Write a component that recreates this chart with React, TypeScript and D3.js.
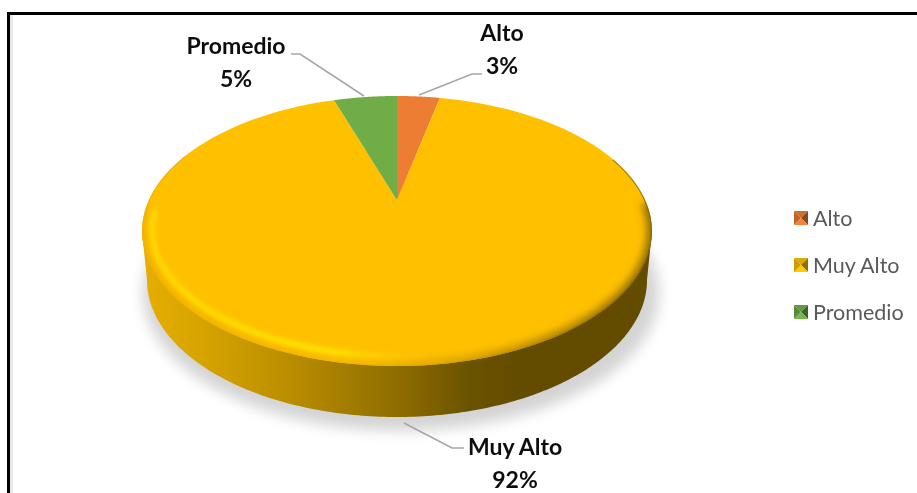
import React from "react";
import * as d3 from "d3";

const categories = ["Alto", "Muy Alto", "Promedio"];
const values = [3.4, 91.6, 5.0];
const percentLabels = ["3%", "92%", "5%"];
const colors = ["#ED7D31", "#FFC000", "#70AD47"];

const W = 917;
const H = 493;
// Tilted-disc projection of the pie's unit circle
const apex = { x: 397, y: 200 };
const scaleX = 248;
const scaleY = 127.9;
const persp = 0.2296;
const top = { cx: 397, cy: 231, rx: 255, ry: 135 };
const inset = { cx: 397, cy: 229, rx: 245, ry: 127 };
const bottom = { cx: 397, cy: 280, rx: 250, ry: 137 };

const project = (a: number, r = 1): [number, number] => {
  const u = Math.sin(a) * r;
  const v = Math.cos(a) * r;
  const w = 1 / (1 + persp * v);
  return [apex.x + scaleX * u * w, apex.y - scaleY * v * w];
};
const line = d3.line();
const pie = d3.pie<number>().sort(null).value((d) => d);
const arcs = pie(values);

const slicePath = (start: number, end: number) => {
  const pts = d3.range(0, 121).map((i) => project(start + ((end - start) * i) / 120));
  return line([[apex.x, apex.y], ...pts])! + "Z";
};

const ell = (e: typeof top, a: number): [number, number] => [
  e.cx + e.rx * Math.cos(a),
  e.cy + e.ry * Math.sin(a),
];
const bodyPts: [number, number][] = [
  ell(top, 0),
  ...d3.range(0, 181).map((d) => ell(bottom, (d * Math.PI) / 180)),
  ell(top, Math.PI),
];
const rimPts = d3.range(-12, 192).map((d) => ell(top, (d * Math.PI) / 180));
const thinRimPts = d3.range(-32, 215).map((d) => ell(top, (d * Math.PI) / 180));
const stripePts = d3.range(70, 190).map((d) => ell(inset, (d * Math.PI) / 180));

const labels = [
  { i: 0, x: 502, y: 41, dy: 33, leader: [[482, 74], [472, 74], [419, 95]] },
  { i: 1, x: 515, y: 455, dy: 33, leader: [[464, 448], [452, 448], [404, 423]] },
  { i: 2, x: 236, y: 54, dy: 33, leader: [[291, 54], [300, 54], [364, 96]] },
] as { i: number; x: number; y: number; dy: number; leader: [number, number][] }[];

const legendY = d3.scalePoint<string>().domain(categories).range([218, 312]);
const font = "Lato, Carlito, sans-serif";

function Marker({ y, color }: { y: number; color: string }) {
  const s = 7;
  const x = 801;
  const c = d3.color(color)!;
  const tri = [
    { p: [[x - s, y - s], [x + s, y - s], [x, y]], f: c.darker(0.35) },
    { p: [[x + s, y - s], [x + s, y + s], [x, y]], f: c.darker(1.6) },
    { p: [[x + s, y + s], [x - s, y + s], [x, y]], f: c.brighter(0.15) },
    { p: [[x - s, y + s], [x - s, y - s], [x, y]], f: c.darker(0.6) },
  ];
  return (
    <g filter="url(#softer)">
      {tri.map((t, i) => (
        <path key={i} d={line(t.p as [number, number][])! + "Z"} fill={String(t.f)} />
      ))}
    </g>
  );
}

export default function App() {
  return (
    <svg width={W} height={H} style={{ position: "absolute", left: 0, top: 0, display: "block", background: "#fff" }}>
      <defs>
        <filter id="sh" x="-20%" y="-20%" width="140%" height="140%">
          <feGaussianBlur stdDeviation="7" />
        </filter>
        <filter id="bev" x="-10%" y="-10%" width="120%" height="120%">
          <feGaussianBlur stdDeviation="4" />
        </filter>
        <filter id="bev2" x="-10%" y="-10%" width="120%" height="120%">
          <feGaussianBlur stdDeviation="2.4" />
        </filter>
        <filter id="soft" x="-5%" y="-5%" width="110%" height="110%">
          <feGaussianBlur stdDeviation="0.5" />
        </filter>
        <filter id="softer" x="-20%" y="-20%" width="140%" height="140%">
          <feGaussianBlur stdDeviation="0.5" />
        </filter>
        <filter id="txt" x="-10%" y="-20%" width="120%" height="140%">
          <feGaussianBlur stdDeviation="0.35" />
        </filter>
        <linearGradient id="side" gradientUnits="userSpaceOnUse" x1="142" x2="652" y1="0" y2="0">
          <stop offset="0" stopColor="#e6ae00" />
          <stop offset="0.12" stopColor="#d6a300" />
          <stop offset="0.3" stopColor="#b88c00" />
          <stop offset="0.5" stopColor="#8f6d00" />
          <stop offset="0.64" stopColor="#6b5300" />
          <stop offset="0.75" stopColor="#634b00" />
          <stop offset="1" stopColor="#634b00" />
        </linearGradient>
        <linearGradient id="rim" gradientUnits="userSpaceOnUse" x1="142" x2="652" y1="0" y2="0">
          <stop offset="0" stopColor="#eeb000" />
          <stop offset="0.4" stopColor="#f5b800" />
          <stop offset="0.6" stopColor="#d8a200" />
          <stop offset="0.8" stopColor="#a37c00" />
          <stop offset="1" stopColor="#7d5f00" />
        </linearGradient>
        <linearGradient id="stripe" gradientUnits="userSpaceOnUse" x1="142" x2="652" y1="0" y2="0">
          <stop offset="0" stopColor="#ffe000" stopOpacity={1} />
          <stop offset="0.38" stopColor="#fff000" stopOpacity={1} />
          <stop offset="0.56" stopColor="#ffd000" stopOpacity={0} />
        </linearGradient>
        <clipPath id="topClip">
          <ellipse cx={top.cx} cy={top.cy} rx={top.rx} ry={top.ry} />
        </clipPath>
      </defs>

      <g stroke="#000" strokeWidth={3} fill="none">
        <line x1={8.5} y1={12} x2={8.5} y2={H} />
        <line x1={7} y1={13.5} x2={W} y2={13.5} />
      </g>
      <rect x={10} y={15} width={3} height={H - 15} fill="#e8e8e8" />

      <ellipse cx={401} cy={293} rx={258} ry={138} fill="#000" opacity={0.17} filter="url(#sh)" />

      <g filter="url(#soft)">
        <path d={line(bodyPts)! + "Z"} fill="url(#side)" />
        {arcs.map((a, i) => (
          <path key={i} d={slicePath(a.startAngle, a.endAngle)} fill={colors[i]} />
        ))}
        <g clipPath="url(#topClip)">
          <path d={line(thinRimPts)!} fill="none" stroke="url(#rim)" strokeWidth={2.5} filter="url(#soft)" opacity={0.7} />
          <path d={line(rimPts)!} fill="none" stroke="url(#rim)" strokeWidth={9} filter="url(#bev)" />
          <path d={line(stripePts)!} fill="none" stroke="url(#stripe)" strokeWidth={4.5} filter="url(#bev2)" />
        </g>
      </g>

      <g filter="url(#txt)">
        {labels.map((l) => (
          <g key={l.i}>
            <path d={line(l.leader)!} fill="none" stroke="#a6a6a6" strokeWidth={1.5} />
            <text x={l.x} y={l.y} textAnchor="middle" fontFamily={font} fontWeight={700} fontSize={23} fill="#111">
              {categories[l.i]}
            </text>
            <text x={l.x} y={l.y + l.dy} textAnchor="middle" fontFamily={font} fontWeight={700} fontSize={23} fill="#111">
              {percentLabels[l.i]}
            </text>
          </g>
        ))}
        {categories.map((c, i) => (
          <text key={c} x={813} y={legendY(c)! + 8} fontFamily={font} fontSize={21.5} fill="#595959">
            {c}
          </text>
        ))}
      </g>
      {categories.map((c, i) => (
        <Marker key={c} y={legendY(c)!} color={colors[i]} />
      ))}
    </svg>
  );
}
